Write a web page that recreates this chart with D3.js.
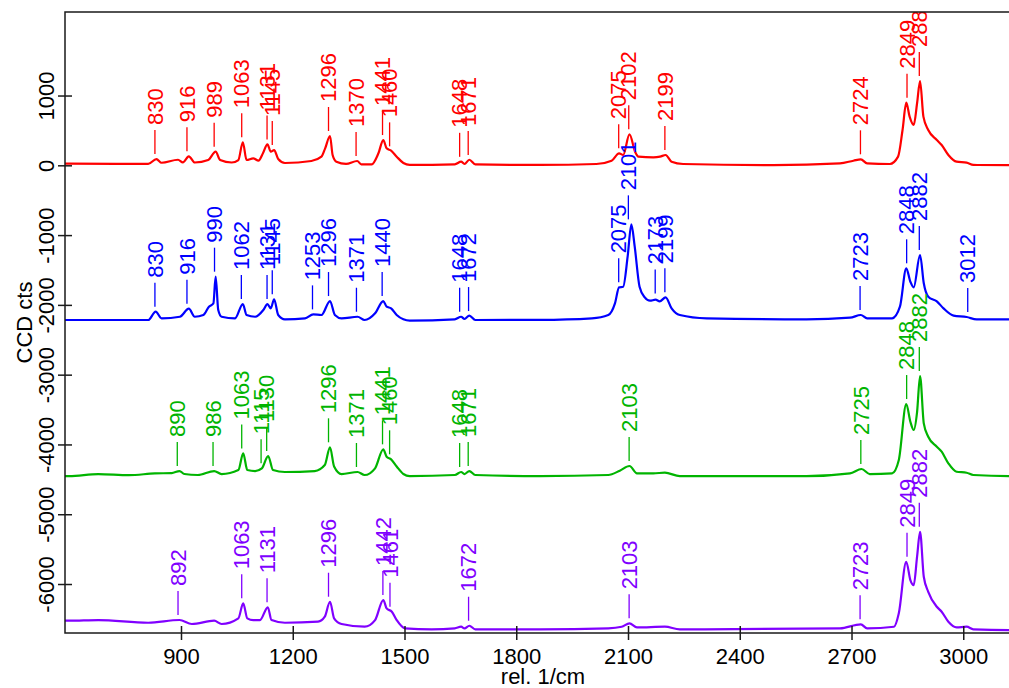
<!DOCTYPE html>
<html>
<head>
<meta charset="utf-8">
<script src="https://cdn.jsdelivr.net/npm/d3@7"></script>
<style>
  html, body { margin: 0; padding: 0; background: #fff; }
  svg { display: block; }
  text { font-family: "Liberation Sans", Arial, Helvetica, sans-serif; }
</style>
</head>
<body>
<svg id="chart" width="1009" height="688"></svg>
<script>
// ---------------- data ----------------
const xTicks = [900, 1200, 1500, 1800, 2100, 2400, 2700, 3000];
const yTicks = [1000, 0, -1000, -2000, -3000, -4000, -5000, -6000];
const xLabel = "rel. 1/cm";
const yLabel = "CCD cts";
const seriesNames = ["red", "blue", "green", "purple"];
const seriesColors = ["#ff0000", "#0000ff", "#00b400", "#8000ff"];

// spectra: [wavenumber, counts]
const redSpectrum = [
  [560,25],[600,25],[812,20],[834,90],[848,37],[892,80],[905,43],[921,129],[937,40],[973,76],[993,195],
  [1005,76],[1036,40],[1054,76],[1066,330],[1076,76],[1094,100],[1108,66],[1120,172],[1132,300],
  [1141,195],[1150,219],[1161,90],[1179,33],[1250,62],[1277,124],[1287,243],[1300,420],[1307,148],
  [1317,52],[1343,20],[1373,62],[1384,14],[1412,14],[1430,172],[1443,362],[1452,243],[1464,210],
  [1479,124],[1497,33],[1514,5],[1635,14],[1652,52],[1661,19],[1674,80],[1690,14],[1864,5],
  [2015,19],[2056,66],[2076,172],[2087,148],[2104,444],[2119,195],[2128,124],[2168,115],[2186,124],
  [2201,148],[2217,52],[2248,19],[2490,2],[2669,28],[2705,66],[2725,86],[2742,28],[2803,19],
  [2825,124],[2837,506],[2847,897],[2856,697],[2867,578],[2876,889],[2884,1208],[2893,697],
  [2906,506],[2929,363],[2942,291],[2960,148],[2982,52],[3009,38],[3027,5],[3123,2],[3160,2]
];
const blueSpectrum = [
  [560,-2217],[600,-2217],[812,-2217],[832,-2098],[848,-2193],[897,-2170],[921,-2055],[937,-2170],
  [960,-2145],[975,-2026],[987,-1978],[993,-1596],[1000,-2074],[1009,-2170],[1045,-2193],[1066,-1988],
  [1076,-2145],[1099,-2170],[1121,-2074],[1132,-1988],[1141,-2050],[1150,-1920],[1161,-2145],
  [1179,-2207],[1233,-2193],[1255,-2136],[1277,-2145],[1300,-1945],[1313,-2145],[1331,-2193],
  [1374,-2170],[1393,-2217],[1421,-2121],[1443,-1945],[1452,-2026],[1464,-2050],[1479,-2145],
  [1497,-2207],[1514,-2226],[1635,-2207],[1652,-2170],[1661,-2202],[1674,-2155],[1690,-2217],
  [1864,-2215],[2003,-2193],[2047,-2145],[2065,-1978],[2076,-1749],[2087,-1740],[2099,-1310],
  [2109,-846],[2118,-1166],[2131,-1740],[2145,-1892],[2159,-1940],[2174,-1926],[2185,-1950],
  [2201,-1892],[2217,-2050],[2239,-2145],[2311,-2193],[2579,-2207],[2696,-2183],[2725,-2145],
  [2742,-2193],[2809,-2193],[2830,-2026],[2847,-1476],[2858,-1668],[2867,-1749],[2884,-1285],
  [2894,-1691],[2906,-1883],[2929,-1950],[2947,-2050],[2974,-2155],[3009,-2174],[3036,-2207],
  [3123,-2207],[3160,-2207]
];
const greenSpectrum = [
  [560,-4453],[600,-4453],[678,-4424],[760,-4440],[830,-4415],[875,-4410],[896,-4381],[909,-4424],
  [945,-4438],[989,-4381],[1009,-4424],[1054,-4367],[1067,-4128],[1078,-4367],[1099,-4381],
  [1117,-4342],[1134,-4166],[1147,-4367],[1179,-4395],[1259,-4381],[1286,-4295],[1300,-4041],
  [1311,-4316],[1331,-4424],[1374,-4395],[1393,-4438],[1421,-4342],[1443,-4070],[1452,-4176],
  [1464,-4213],[1479,-4316],[1497,-4424],[1514,-4453],[1635,-4438],[1652,-4395],[1661,-4424],
  [1674,-4381],[1690,-4438],[1864,-4453],[2047,-4438],[2078,-4376],[2104,-4309],[2124,-4414],
  [2168,-4414],[2199,-4405],[2239,-4453],[2579,-4453],[2696,-4414],[2727,-4352],[2749,-4424],
  [2809,-4414],[2827,-4223],[2847,-3421],[2858,-3674],[2867,-3793],[2876,-3536],[2884,-3019],
  [2894,-3698],[2906,-3889],[2929,-4032],[2942,-4104],[2960,-4271],[2982,-4391],[3009,-4405],
  [3027,-4438],[3123,-4453],[3160,-4453]
];
const purpleSpectrum = [
  [560,-6526],[600,-6526],[678,-6517],[812,-6555],[896,-6516],[929,-6573],[989,-6526],[1009,-6573],
  [1054,-6492],[1067,-6277],[1078,-6492],[1094,-6517],[1112,-6517],[1133,-6334],[1143,-6517],
  [1179,-6555],[1268,-6540],[1286,-6469],[1300,-6254],[1311,-6492],[1331,-6573],[1393,-6612],
  [1421,-6517],[1443,-6230],[1452,-6349],[1466,-6397],[1479,-6517],[1501,-6635],[1573,-6650],
  [1635,-6635],[1652,-6612],[1661,-6635],[1674,-6598],[1690,-6650],[1864,-6650],[2047,-6635],
  [2083,-6612],[2104,-6564],[2124,-6621],[2199,-6612],[2239,-6650],[2669,-6635],[2725,-6578],
  [2742,-6635],[2814,-6612],[2827,-6420],[2847,-5681],[2858,-5943],[2867,-6015],[2876,-5609],
  [2884,-5251],[2894,-5896],[2906,-6111],[2929,-6326],[2942,-6397],[2960,-6541],[2982,-6621],
  [3009,-6612],[3027,-6650],[3123,-6660],[3160,-6660]
];

// peak labels: [label wavenumber, counts at that peak]
const redPeaks = [
  [830,90],[916,129],[989,195],[1063,330],[1131,300],[1145,219],[1296,420],[1370,62],[1441,362],
  [1460,200],[1648,50],[1671,75],[2075,172],[2102,444],[2199,148],[2724,86],[2849,897],[2882,1208]
];
const bluePeaks = [
  [830,-2098],[916,-2055],[990,-1596],[1062,-1988],[1131,-1988],[1145,-1920],[1253,-2136],
  [1296,-1945],[1371,-2170],[1440,-1945],[1648,-2170],[1672,-2160],[2075,-1749],[2101,-846],
  [2173,-1910],[2199,-1892],[2723,-2145],[2848,-1476],[2882,-1285],[3012,-2174]
];
const greenPeaks = [
  [890,-4381],[986,-4381],[1063,-4128],[1115,-4342],[1130,-4166],[1296,-4041],[1371,-4395],
  [1441,-4070],[1460,-4213],[1648,-4395],[1671,-4381],[2103,-4309],[2725,-4352],[2848,-3421],
  [2882,-3019]
];
const purplePeaks = [
  [892,-6516],[1063,-6277],[1131,-6334],[1296,-6254],[1442,-6230],[1461,-6397],[1672,-6598],
  [2103,-6564],[2723,-6578],[2849,-5681],[2882,-5251]
];

const spectra = [redSpectrum, blueSpectrum, greenSpectrum, purpleSpectrum];
const peaks = [redPeaks, bluePeaks, greenPeaks, purplePeaks];

// ---------------- layout ----------------
const W = 1009, H = 688;
const plot = { left: 65, right: 1021, top: 12, bottom: 633 };

const x = d3.scaleLinear().domain([588.6, 3155]).range([plot.left, plot.right]);
const y = d3.scaleLinear().domain([-6702, 2197]).range([plot.bottom, plot.top]);

const svg = d3.select("#chart");
svg.append("rect").attr("width", W).attr("height", H).attr("fill", "#fff");

svg.append("defs").append("clipPath").attr("id", "plotclip")
  .append("rect")
  .attr("x", plot.left).attr("y", plot.top)
  .attr("width", plot.right - plot.left).attr("height", plot.bottom - plot.top);

const FS = 22;
const plainNum = d => String(d);   // ASCII hyphen-minus, as in the reference

// spectra
const line = d3.line().x(d => x(d[0])).y(d => y(d[1])).curve(d3.curveMonotoneX);
const gData = svg.append("g").attr("clip-path", "url(#plotclip)");
spectra.forEach((s, i) => {
  gData.append("path")
    .datum(s)
    .attr("d", line)
    .attr("fill", "none")
    .attr("stroke", seriesColors[i])
    .attr("stroke-width", 2.2)
    .attr("stroke-linejoin", "round");
});

// peak labels
spectra.forEach((s, i) => {
  const g = gData.append("g").attr("class", "peaks-" + seriesNames[i]);
  peaks[i].forEach(p => {
    const px = x(p[0]);
    const py = y(p[1]);
    g.append("line")
      .attr("x1", px).attr("x2", px)
      .attr("y1", py - 5).attr("y2", py - 29)
      .attr("stroke", seriesColors[i]).attr("stroke-width", 1.3);
    g.append("text")
      .attr("transform", `translate(${px},${py - 34}) rotate(-90)`)
      .attr("dy", "0.35em")
      .attr("text-anchor", "start")
      .attr("font-size", FS)
      .attr("fill", seriesColors[i])
      .text(String(p[0]));
  });
});

// frame
const axisColor = "#1a1a1a";
svg.append("rect")
  .attr("x", plot.left).attr("y", plot.top)
  .attr("width", plot.right - plot.left).attr("height", plot.bottom - plot.top)
  .attr("fill", "none").attr("stroke", axisColor).attr("stroke-width", 1.5);

// x axis
const xAxis = d3.axisBottom(x).tickValues(xTicks).tickSize(0).tickFormat(plainNum);
const gx = svg.append("g").attr("transform", `translate(0,${plot.bottom})`).call(xAxis);
gx.select(".domain").remove();
gx.selectAll(".tick line").remove();
gx.selectAll(".tick").append("line")
  .attr("y1", -7).attr("y2", 7).attr("stroke", axisColor).attr("stroke-width", 1.5);
gx.selectAll(".tick text")
  .attr("y", 30.5).attr("dy", null)
  .attr("font-size", FS).attr("fill", "#000")
  .attr("font-family", "Liberation Sans, Arial, sans-serif");

// y axis
const yAxis = d3.axisLeft(y).tickValues(yTicks).tickSize(0).tickFormat(plainNum);
const gy = svg.append("g").attr("transform", `translate(${plot.left},0)`).call(yAxis);
gy.select(".domain").remove();
gy.selectAll(".tick line").remove();
gy.selectAll(".tick").append("line")
  .attr("x1", -7).attr("x2", 7).attr("stroke", axisColor).attr("stroke-width", 1.5);
gy.selectAll(".tick text")
  .attr("x", null).attr("dy", null)
  .attr("transform", "translate(-11.5,0) rotate(-90)")
  .attr("text-anchor", "middle")
  .attr("font-size", FS).attr("fill", "#000")
  .attr("font-family", "Liberation Sans, Arial, sans-serif");

// axis titles
svg.append("text")
  .attr("x", (plot.left + plot.right) / 2).attr("y", 684)
  .attr("text-anchor", "middle").attr("font-size", FS).attr("fill", "#000")
  .text(xLabel);
svg.append("text")
  .attr("transform", `translate(31.5,${(plot.top + plot.bottom) / 2}) rotate(-90)`)
  .attr("text-anchor", "middle").attr("font-size", FS).attr("fill", "#000")
  .text(yLabel);
</script>
</body>
</html>
